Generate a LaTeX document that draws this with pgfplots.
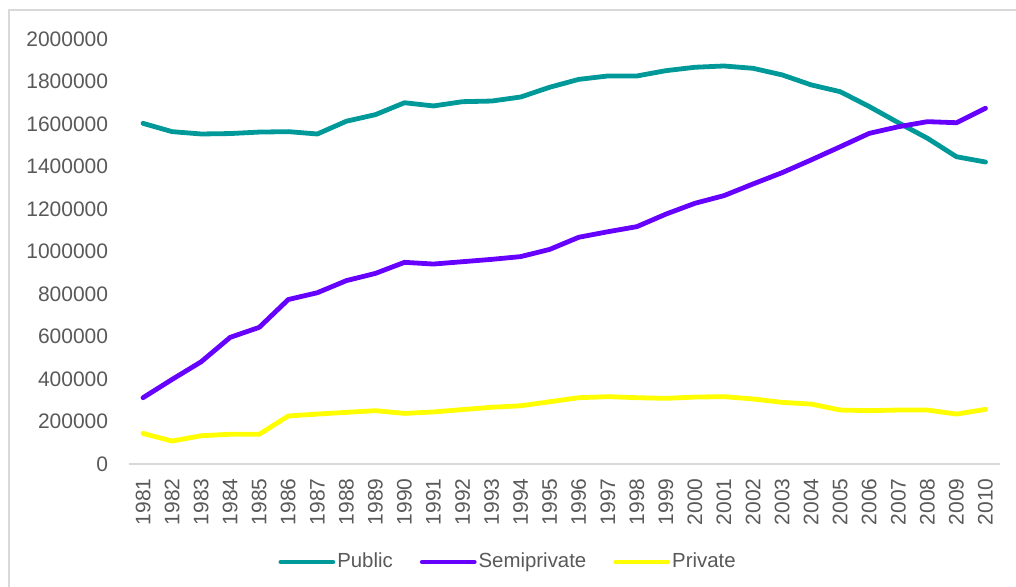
\documentclass[border=0pt]{standalone}
\usepackage{fontspec}
\setmainfont{Liberation Sans}
\usepackage{pgfplots}
\pgfplotsset{compat=1.18}
\definecolor{pubc}{RGB}{0,153,153}
\definecolor{semic}{RGB}{102,0,255}
\definecolor{privc}{RGB}{255,255,0}
\definecolor{txtc}{RGB}{89,89,89}
\definecolor{linec}{RGB}{217,217,217}
\begin{document}
\begin{tikzpicture}[x=1bp,y=1bp]
\useasboundingbox (0,0) rectangle (508,293);
\draw[linec, line width=0.8bp] (4.5,-5) -- (4.5,288) -- (515,288);
\begin{axis}[
  at={(64.25bp,61bp)}, anchor=south west,
  scale only axis, width=435.75bp, height=212.5bp,
  xmin=1980.5, xmax=2010.5, ymin=0, ymax=2000000,
  axis lines*=left,
  y axis line style={draw=none},
  x axis line style={linec, line width=1bp},
  major tick length=0pt,
  tick style={draw=none},
  xtick={1981,1982,...,2010},
  ytick={0,200000,...,2000000},
  scaled y ticks=false,
  /pgf/number format/.cd, fixed, 1000 sep={}, assume math mode=true, /pgfplots/.cd,
  tick label style={font=\fontsize{10.5bp}{13bp}\selectfont, text=txtc, inner sep=0pt},
  x tick label style={rotate=90, anchor=east},
  y tick label style={anchor=east},
  xticklabel shift=7bp,
  yticklabel shift=10bp,
  legend style={at={(0.4355,0)}, anchor=center, yshift=-49bp, draw=none, fill=none,
    font=\fontsize{10.2bp}{12bp}\selectfont, text=txtc,
    /tikz/every even column/.append style={column sep=12.5bp},
    nodes={inner sep=1bp}},
  legend columns=3,
  legend image code/.code={\draw[#1, line cap=round] (0bp,0bp) -- (26bp,0bp);},
  every axis plot/.append style={line width=2.4bp, line join=round, line cap=round},
  clip=false,
]
\addplot[pubc] coordinates {
(1981,1603000)(1982,1564000)(1983,1553000)(1984,1555000)(1985,1562000)
(1986,1564000)(1987,1553000)(1988,1613000)(1989,1644000)(1990,1700000)
(1991,1685000)(1992,1705000)(1993,1708000)(1994,1727000)(1995,1773000)
(1996,1810000)(1997,1826000)(1998,1826000)(1999,1851000)(2000,1867000)
(2001,1873000)(2002,1862000)(2003,1831000)(2004,1784000)(2005,1752000)
(2006,1682000)(2007,1606000)(2008,1533000)(2009,1446000)(2010,1421000)};
\addlegendentry{Public}
\addplot[semic] coordinates {
(1981,312000)(1982,398000)(1983,481000)(1984,596000)(1985,643000)
(1986,774000)(1987,806000)(1988,863000)(1989,897000)(1990,949000)
(1991,941000)(1992,952000)(1993,963000)(1994,976000)(1995,1010000)
(1996,1067000)(1997,1093000)(1998,1117000)(1999,1176000)(2000,1227000)
(2001,1263000)(2002,1318000)(2003,1371000)(2004,1431000)(2005,1493000)
(2006,1556000)(2007,1587000)(2008,1611000)(2009,1606000)(2010,1674000)};
\addlegendentry{Semiprivate}
\addplot[privc] coordinates {
(1981,144000)(1982,108000)(1983,133000)(1984,140000)(1985,140000)
(1986,226000)(1987,235000)(1988,243000)(1989,251000)(1990,238000)
(1991,245000)(1992,256000)(1993,267000)(1994,274000)(1995,293000)
(1996,312000)(1997,317000)(1998,312000)(1999,309000)(2000,315000)
(2001,317000)(2002,306000)(2003,290000)(2004,282000)(2005,254000)
(2006,251000)(2007,254000)(2008,254000)(2009,235000)(2010,257000)};
\addlegendentry{Private}
\end{axis}
\end{tikzpicture}
\end{document}
